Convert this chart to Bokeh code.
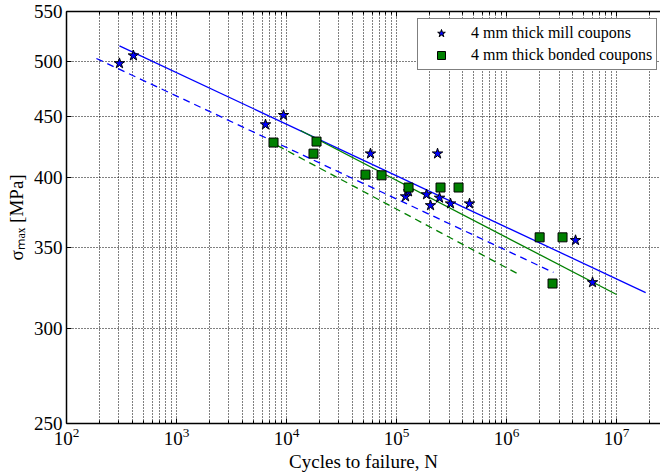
from bokeh.plotting import figure
from bokeh.models import (FixedTicker, LogAxis, LogTickFormatter, PrintfTickFormatter,
                          Legend, LegendItem, CustomJSTickFormatter)
from bokeh.embed import file_html
from bokeh.resources import INLINE

# ---- data ----
mill_N = [303, 406, 6440, 9390, 58000, 236000, 120800, 128600, 187400, 203800,
          246000, 309700, 461000, 4240000, 6050000]
mill_S = [498, 505.5, 443, 451, 419, 419, 386, 389.7, 387.5, 379.5,
          385, 380.8, 380.8, 355, 327.5]

bonded_N = [7620, 18750, 17590, 52240, 73100, 128600, 251200, 366400,
            2000000, 3230000, 2620000]
bonded_S = [428, 428.8, 419, 402.5, 402, 392.7, 392.7, 392.7, 357, 357, 326.8]

mill_fit_N = [303, 1.84e7]
mill_fit_S = [515, 321.2]
mill_low_N = [187, 2.67e6]
mill_low_S = [502.7, 333.8]
bonded_fit_N = [13400, 1.0e7]
bonded_fit_S = [438, 320]
bonded_low_N = [8280, 1.26e6]
bonded_low_S = [425.5, 333]

x_major = [1e2, 1e3, 1e4, 1e5, 1e6, 1e7]
x_minor = [m * d for d in [1e2, 1e3, 1e4, 1e5, 1e6, 1e7] for m in range(2, 10)]
y_ticks = [250, 300, 350, 400, 450, 500, 550]

labels = ["4 mm thick mill coupons", "4 mm thick bonded coupons"]
x_label = "Cycles to failure, N"
y_label = "σₘₐₓ [MPa]"

FONT = "Liberation Serif"
BLUE = "#0000ff"
GREEN = "#008000"

p = figure(width=660, height=474, x_axis_type="log", y_axis_type="log",
           x_range=(100, 2.51e7), y_range=(250, 550),
           output_backend="svg", toolbar_location=None,
           min_border_left=66, min_border_right=0, min_border_top=11, min_border_bottom=51)
p.outline_line_color = None
p.background_fill_color = "white"
p.border_fill_color = "white"

# axes
for ax in [p.xaxis[0], p.yaxis[0]]:
    ax.axis_line_width = 1.5
    ax.axis_line_color = "black"
    ax.major_tick_in = 5
    ax.major_tick_out = 0
    ax.minor_tick_in = 3
    ax.minor_tick_out = 0
    ax.major_tick_line_color = "black"
    ax.minor_tick_line_color = "black"
    ax.major_label_text_font = FONT
    ax.major_label_text_font_size = "19px"
    ax.major_label_text_color = "black"
    ax.axis_label_text_font = FONT
    ax.axis_label_text_font_size = "19px"
    ax.axis_label_text_font_style = "normal"
    ax.axis_label_text_color = "black"

p.xaxis.ticker = FixedTicker(ticks=x_major, minor_ticks=x_minor)
p.xaxis.formatter = LogTickFormatter()
p.xaxis.major_label_standoff = 4
p.xaxis.axis_label = x_label
p.xaxis.axis_label_standoff = 3

p.yaxis.ticker = FixedTicker(ticks=y_ticks, minor_ticks=[])
p.yaxis.formatter = PrintfTickFormatter(format="%d")
p.yaxis.major_label_standoff = 4
p.yaxis.axis_label = y_label
p.yaxis.axis_label_standoff = 4

top_axis = LogAxis(ticker=FixedTicker(ticks=x_major, minor_ticks=x_minor),
                   formatter=CustomJSTickFormatter(code="return ' '"),
                   major_label_text_font_size="2px", major_label_standoff=0,
                   axis_line_width=1.5, major_tick_in=5, major_tick_out=0,
                   minor_tick_in=3, minor_tick_out=0)
p.add_layout(top_axis, "above")

# grids
p.xgrid.ticker = FixedTicker(ticks=x_major, minor_ticks=x_minor)
p.ygrid.ticker = FixedTicker(ticks=y_ticks, minor_ticks=[])
for g in [p.xgrid[0], p.ygrid[0]]:
    g.grid_line_color = "black"
    g.grid_line_dash = "1 2"
    g.grid_line_width = 1
    g.grid_line_alpha = 1.0
p.xgrid.minor_grid_line_color = "black"
p.xgrid.minor_grid_line_dash = "1 2"
p.xgrid.minor_grid_line_alpha = 1.0

# fit lines
p.line(mill_fit_N, mill_fit_S, line_color=BLUE, line_width=1.3)
p.line(mill_low_N, mill_low_S, line_color=BLUE, line_width=1.3, line_dash="7 5")
p.line(bonded_fit_N, bonded_fit_S, line_color=GREEN, line_width=1.3)
p.line(bonded_low_N, bonded_low_S, line_color=GREEN, line_width=1.3, line_dash="7 5")

# data points
r_mill = p.scatter(mill_N, mill_S, marker="star", size=11, fill_color=BLUE,
                   line_color="black", line_width=1)
r_bond = p.scatter(bonded_N, bonded_S, marker="square", size=9, fill_color=GREEN,
                   line_color="black", line_width=1)

legend = Legend(items=[LegendItem(label=labels[0], renderers=[r_mill]),
                       LegendItem(label=labels[1], renderers=[r_bond])],
                location=(351, 353), margin=0, padding=4, spacing=2,
                glyph_width=38, glyph_height=20, label_height=20, label_standoff=11,
                label_text_font=FONT, label_text_font_size="16px",
                label_text_color="black",
                border_line_color="black", border_line_width=1,
                background_fill_color="white", background_fill_alpha=1)
p.add_layout(legend, "center")

open("out.html", "w").write(file_html(p, INLINE))
